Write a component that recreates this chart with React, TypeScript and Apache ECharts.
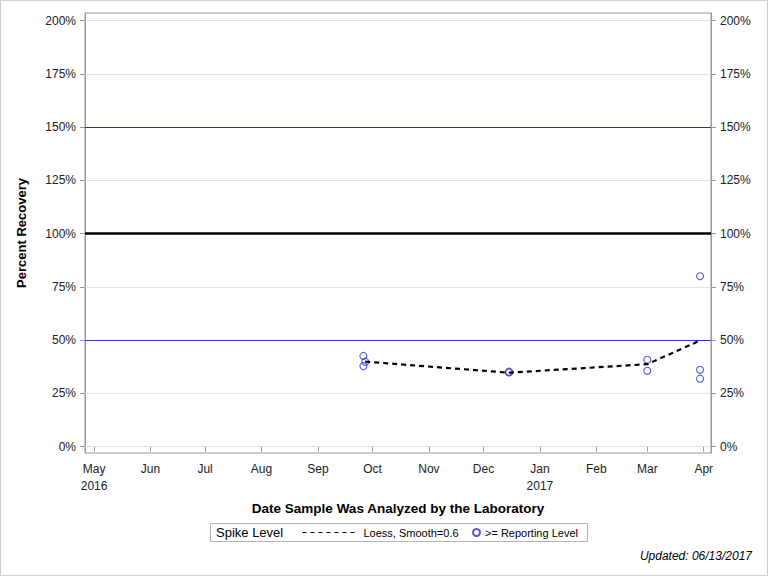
import { useEffect, useRef } from 'react'
import * as echarts from 'echarts'

// month ticks on the x axis and their labels
const monthTicks = ['2016-05-01', '2016-06-01', '2016-07-01', '2016-08-01', '2016-09-01', '2016-10-01', '2016-11-01', '2016-12-01', '2017-01-01', '2017-02-01', '2017-03-01', '2017-04-01']
const monthLabels = ['May\n2016', 'Jun', 'Jul', 'Aug', 'Sep', 'Oct', 'Nov', 'Dec', 'Jan\n2017', 'Feb', 'Mar', 'Apr']
const yTicks = [0, 25, 50, 75, 100, 125, 150, 175, 200]

// >= Reporting Level samples
const sampleDates = ['2016-09-26', '2016-09-26', '2016-09-27', '2016-12-15', '2016-12-15', '2017-03-01', '2017-03-01', '2017-03-30', '2017-03-30', '2017-03-30']
const recovery = [42.6, 37.8, 39.9, 34.8, 35.2, 40.8, 35.6, 80.0, 36.1, 31.9]

// Loess, Smooth=0.6
const loessDates = ['2016-09-27', '2016-12-15', '2017-03-01', '2017-03-30']
const loessValues = [39.9, 34.7, 38.7, 49.8]

// reference lines: light grid, 50% blue, 100% black, 150% navy
const gridLines = [0, 25, 75, 125, 175, 200]

const t = (s: string) => { const [y, m, d] = s.split('-').map(Number); return Date.UTC(y, m - 1, d) }
const FONT = '"Liberation Sans", Arial, sans-serif'

export default function App() {
  const ref = useRef<HTMLDivElement>(null)

  useEffect(() => {
    document.body.style.margin = '0'
    if (!ref.current) return
    const chart = echarts.init(ref.current, null, { renderer: 'svg' })
    const tickVals = monthTicks.map(t)
    const axisGray = '#9a9a9a'
    const yAxisBase = {
      type: 'value' as const, min: -3, max: 203.6,
      axisLine: { show: true, lineStyle: { color: axisGray } },
      axisTick: { show: true, length: 5, lineStyle: { color: axisGray }, customValues: yTicks },
      axisLabel: { color: '#222', fontSize: 12, fontFamily: FONT, margin: 9, customValues: yTicks, formatter: (v: number) => v + '%' },
      splitLine: { show: false },
    }
    chart.setOption({
      animation: false,
      textStyle: { fontFamily: FONT },
      grid: { left: 85, right: 57, top: 13, bottom: 123, show: true, borderColor: axisGray, borderWidth: 1 },
      xAxis: {
        type: 'value', min: t('2016-04-26'), max: t('2017-04-05'),
        name: 'Date Sample Was Analyzed by the Laboratory', nameLocation: 'middle', nameGap: 48,
        nameTextStyle: { fontSize: 13.5, fontWeight: 'bold', color: '#000', fontFamily: FONT },
        axisLine: { show: true, lineStyle: { color: axisGray } },
        axisTick: { show: true, length: 5, lineStyle: { color: axisGray }, customValues: tickVals },
        axisLabel: {
          color: '#222', fontSize: 12, fontFamily: FONT, margin: 7, lineHeight: 17, customValues: tickVals,
          formatter: (v: number) => { const i = tickVals.indexOf(v); return i >= 0 ? monthLabels[i] : '' },
        },
        splitLine: { show: false },
      },
      yAxis: [
        { ...yAxisBase, position: 'left', name: 'Percent Recovery', nameLocation: 'middle', nameGap: 57,
          nameTextStyle: { fontSize: 13, fontWeight: 'bold', color: '#000', fontFamily: FONT } },
        { ...yAxisBase, position: 'right' },
      ],
      legend: [
        { data: ['Loess, Smooth=0.6'], left: 302, top: 527, padding: 0, itemWidth: 56, itemHeight: 10,
          textStyle: { fontSize: 11, color: '#000', fontFamily: FONT }, lineStyle: { width: 1, type: [4, 4] },
          itemStyle: { opacity: 0 }, selectedMode: false },
        { data: ['>= Reporting Level'], left: 472, top: 527, padding: 0, itemWidth: 7, itemHeight: 7,
          textStyle: { fontSize: 11, color: '#000', fontFamily: FONT }, selectedMode: false },
      ],
      graphic: [
        { type: 'rect', shape: { x: 0.5, y: 0.5, width: 767, height: 575 }, style: { fill: 'none', stroke: '#cfcfcf', lineWidth: 1 }, silent: true },
        { type: 'rect', shape: { x: 210.5, y: 523.5, width: 377, height: 18 }, style: { fill: 'none', stroke: '#b5b5b5', lineWidth: 1 }, silent: true },
        { type: 'text', x: 216, y: 532, style: { text: 'Spike Level', font: '13px ' + FONT, fill: '#000', verticalAlign: 'middle' }, silent: true },
        { type: 'text', x: 752, y: 556, style: { text: 'Updated: 06/13/2017', font: 'italic 12px ' + FONT, fill: '#000', align: 'right', verticalAlign: 'middle' }, silent: true },
      ],
      series: [
        {
          name: 'ref', type: 'line', data: [], silent: true,
          markLine: {
            silent: true, symbol: ['none', 'none'], label: { show: false },
            data: [
              ...gridLines.map(v => ({ yAxis: v, lineStyle: { color: '#e2e2e2', width: 1, type: 'solid' as const } })),
              { yAxis: 50, lineStyle: { color: '#3535c8', width: 1, type: 'solid' } },
              { yAxis: 100, lineStyle: { color: '#000', width: 2.5, type: 'solid' } },
              { yAxis: 150, lineStyle: { color: '#333380', width: 1, type: 'solid' } },
            ],
          },
        },
        {
          name: '>= Reporting Level', type: 'scatter', symbol: 'circle', symbolSize: 7,
          itemStyle: { color: 'rgba(255,255,255,0)', borderColor: '#2f2fc8', borderWidth: 1.1 },
          data: sampleDates.map((d, i) => [t(d), recovery[i]]), z: 3,
        },
        {
          name: 'Loess, Smooth=0.6', type: 'line', symbol: 'none', showSymbol: false,
          lineStyle: { color: '#000', width: 2.2, type: [5, 4] }, itemStyle: { color: '#000' },
          data: loessDates.map((d, i) => [t(d), loessValues[i]]), z: 4,
        },
      ],
    })
    return () => chart.dispose()
  }, [])

  return <div ref={ref} style={{ width: 768, height: 576 }} />
}
